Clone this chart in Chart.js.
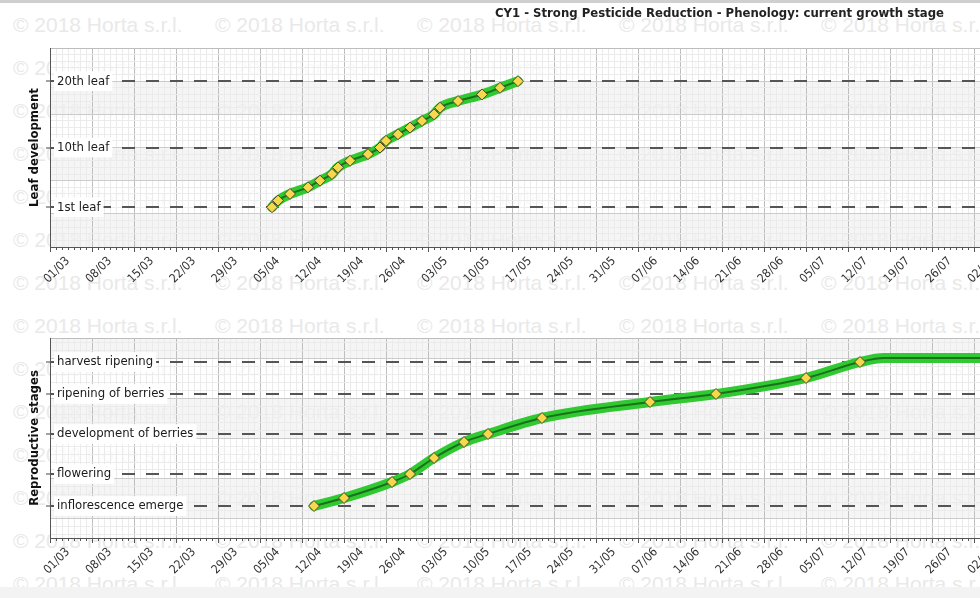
<!DOCTYPE html>
<html>
<head>
<meta charset="utf-8">
<script src="https://cdn.jsdelivr.net/npm/chart.js@4.4.1/dist/chart.umd.min.js"></script>
<style>
  html, body { margin: 0; padding: 0; background: #fff; overflow: hidden; }
  #page { position: relative; width: 980px; height: 598px; overflow: hidden; }
  #wm { position: absolute; left: 0; top: 0; width: 980px; height: 598px; z-index: 0; }
  .wm { position: absolute; font: 21px "Liberation Sans", Arial, sans-serif; line-height: 24px; color: #e9e9e9; white-space: nowrap; }
  #topbar { position: absolute; left: 0; top: 0; width: 980px; height: 3px; background: #cfcfcf; z-index: 3; }
  #title { position: absolute; right: 36px; top: 5px; font: bold 13px "DejaVu Sans Condensed", "DejaVu Sans", sans-serif; color: #222; white-space: nowrap; z-index: 3; }
  .cw { position: absolute; left: 0; width: 980px; z-index: 1; }
  #foot { position: absolute; left: 0; top: 587px; width: 980px; height: 11px; background: #f3f3f3; z-index: 4; }
</style>
</head>
<body>
<div id="page">
  <div id="wm"></div>
  <div id="topbar"></div>
  <div id="title">CY1 - Strong Pesticide Reduction - Phenology: current growth stage</div>
  <div class="cw" style="top:0;height:300px"><canvas id="leafChart"></canvas></div>
  <div class="cw" style="top:290px;height:297px"><canvas id="stageChart"></canvas></div>
  <div id="foot"></div>
</div>
<script>
// dati
const xTickLabels = ['01/03', '08/03', '15/03', '22/03', '29/03', '05/04', '12/04', '19/04', '26/04', '03/05', '10/05',
  '17/05', '24/05', '31/05', '07/06', '14/06', '21/06', '28/06', '05/07', '12/07', '19/07', '26/07', '02/08'];

const leafDates = ['07/04', '08/04', '10/04', '13/04', '15/04', '17/04', '18/04', '20/04', '23/04', '25/04',
  '26/04', '28/04', '30/04', '02/05', '04/05', '05/05', '08/05', '12/05', '15/05', '18/05'];
const leafValues = [1, 2, 3, 4, 5, 6, 7, 8, 9, 10, 11, 12, 13, 14, 15, 16, 17, 18, 19, 20];
const leafTickValues = [1, 10, 20];
const leafTickLabels = ['1st leaf', '10th leaf', '20th leaf'];

const stageDates = ['14/04', '19/04', '27/04', '30/04', '04/05', '09/05', '13/05', '22/05', '09/06', '20/06',
  '05/07', '14/07', '18/07', '10/08'];
const stageValues = [53, 55, 59, 61, 65, 69, 71, 75, 79, 81, 85, 89, 90, 90];
const stageObserved = [true, true, true, true, true, true, true, true, true, true, true, true, false, false];
const stageTickValues = [53, 61, 71, 81, 89];
const stageTickLabels = ['inflorescence emerge', 'flowering', 'development of berries', 'ripening of berries', 'harvest ripening'];

const watermark = '\u00A9 2018 Horta s.r.l.';

// giorni da 01/03
function dayOf(s) {
  const [d, m] = s.split('/').map(Number);
  return Math.round((Date.UTC(2018, m - 1, d) - Date.UTC(2018, 2, 1)) / 86400000);
}
const tickByDay = {};
xTickLabels.forEach(l => { tickByDay[dayOf(l)] = l; });
const X_MAX = 155;

// filigrana
const wm = document.getElementById('wm');
for (let r = 0; r < 14; r++) {
  for (let c = 0; c < 5; c++) {
    const el = document.createElement('div');
    el.className = 'wm';
    el.textContent = watermark;
    el.style.left = (13 + c * 202) + 'px';
    el.style.top = (25 + r * 43 - 12) + 'px';
    wm.appendChild(el);
  }
}

const FONT = '"DejaVu Sans Condensed", "DejaVu Sans", sans-serif';

const plotBack = {
  id: 'plotBack',
  beforeDraw(chart, args, o) {
    const { ctx, chartArea: a } = chart;
    const yg = chart.scales.yg;
    ctx.save();
    ctx.fillStyle = 'rgba(255,255,255,0.72)';
    ctx.fillRect(a.left, a.top, a.width, a.height);
    ctx.fillStyle = 'rgba(0,0,0,0.04)';
    for (let v = o.start; v < yg.max; v += o.step * 2) {
      const y1 = yg.getPixelForValue(Math.min(v + o.step, yg.max));
      const y2 = yg.getPixelForValue(Math.max(v, yg.min));
      ctx.fillRect(a.left, y1, a.width, y2 - y1);
    }
    ctx.restore();
  }
};

function isMult(v, step) {
  const q = v / step;
  return Math.abs(q - Math.round(q)) < 1e-6;
}

function makeChart(id, cfg) {
  const pts = cfg.dates.map((d, i) => ({ x: dayOf(d), y: cfg.values[i] }));
  return new Chart(document.getElementById(id), {
    type: 'line',
    data: {
      datasets: [{
        data: pts,
        borderColor: '#197219',
        borderWidth: 2,
        cubicInterpolationMode: 'monotone',
        pointStyle: 'rectRot',
        pointRadius: c => (cfg.marked ? cfg.marked[c.dataIndex] : true) ? 5.5 : 0,
        pointBackgroundColor: '#f7d84c',
        pointBorderColor: '#4b4b30',
        pointBorderWidth: 1,
        yAxisID: 'yg'
      }, {
        data: pts,
        borderColor: '#31c931',
        borderWidth: 10,
        borderCapStyle: 'round',
        borderJoinStyle: 'round',
        cubicInterpolationMode: 'monotone',
        pointRadius: 0,
        yAxisID: 'yg'
      }]
    },
    options: {
      responsive: true,
      maintainAspectRatio: false,
      animation: false,
      layout: { autoPadding: false, padding: { top: 48, left: 0, right: 0, bottom: 0 } },
      plugins: {
        legend: { display: false },
        tooltip: { enabled: false },
        plotBack: { start: cfg.bandStart, step: cfg.major }
      },
      scales: {
        x: {
          type: 'linear',
          min: 0,
          max: X_MAX,
          afterBuildTicks: s => {
            s.ticks = [];
            for (let d = 0; d <= X_MAX; d++) s.ticks.push({ value: d });
          },
          afterFit: s => { s.height = cfg.xHeight; s.paddingLeft = 0; s.paddingRight = 0; },
          ticks: {
            autoSkip: false,
            minRotation: 45,
            maxRotation: 45,
            labelOffset: 18,
            padding: 2,
            color: '#333',
            font: { family: FONT, size: 12 },
            callback: v => tickByDay[v] || ''
          },
          grid: {
            color: c => (c.tick && tickByDay[c.tick.value]) ? '#bfbfbf' : '#ebebeb',
            tickLength: 5,
            tickColor: '#555',
            tickBorderDash: c => (c.tick && !tickByDay[c.tick.value]) ? [2, 20] : []
          },
          border: { display: true, color: '#555', width: 1, z: 1 }
        },
        yg: {
          type: 'linear',
          position: 'left',
          weight: 0,
          min: cfg.min,
          max: cfg.max,
          afterBuildTicks: s => {
            s.ticks = [{ value: cfg.min }];
            for (let v = Math.ceil(cfg.min / cfg.minor) * cfg.minor; v < cfg.max; v += cfg.minor) {
              if (v > cfg.min) s.ticks.push({ value: +v.toFixed(3) });
            }
            s.ticks.push({ value: cfg.max });
          },
          afterFit: s => { s.width = 0; s.paddingTop = 0; s.paddingBottom = 0; },
          ticks: { display: false },
          grid: {
            drawTicks: false,
            color: c => {
              if (!c.tick) return '#ebebeb';
              const v = c.tick.value;
              if (v === cfg.min || v === cfg.max) return '#bdbdbd';
              return isMult(v, cfg.major) ? '#cbcbcb' : '#ebebeb';
            }
          },
          border: { display: true, color: '#555', width: 1, z: 1 }
        },
        y: {
          type: 'linear',
          position: 'left',
          weight: 1,
          min: cfg.min,
          max: cfg.max,
          afterBuildTicks: s => { s.ticks = cfg.tickValues.map(v => ({ value: v })); },
          afterFit: s => { s.width = 50; s.paddingTop = 0; s.paddingBottom = 0; },
          ticks: {
            mirror: true,
            padding: 7,
            color: '#1a1a1a',
            font: { family: FONT, size: 13 },
            showLabelBackdrop: true,
            backdropColor: '#ffffff',
            backdropPadding: { x: 3, y: 2 },
            callback: v => cfg.tickLabels[cfg.tickValues.indexOf(v)]
          },
          grid: { color: '#555', lineWidth: 2, tickLength: 4, tickColor: '#444', tickWidth: 1 },
          border: { display: false, dash: [13, 11] },
          title: {
            display: true,
            text: cfg.title,
            color: '#111',
            font: { family: FONT, size: 13, weight: 'bold' },
            padding: { top: 27, bottom: 0 }
          }
        }
      }
    },
    plugins: [plotBack]
  });
}

makeChart('leafChart', {
  dates: leafDates, values: leafValues,
  min: -5, max: 25, major: 5, minor: 1, bandStart: -5,
  tickValues: leafTickValues, tickLabels: leafTickLabels,
  title: 'Leaf development', xHeight: 53
});

makeChart('stageChart', {
  dates: stageDates, values: stageValues, marked: stageObserved,
  min: 45, max: 95, major: 10, minor: 2, bandStart: 50,
  tickValues: stageTickValues, tickLabels: stageTickLabels,
  title: 'Reproductive stages', xHeight: 49
});
</script>
</body>
</html>
